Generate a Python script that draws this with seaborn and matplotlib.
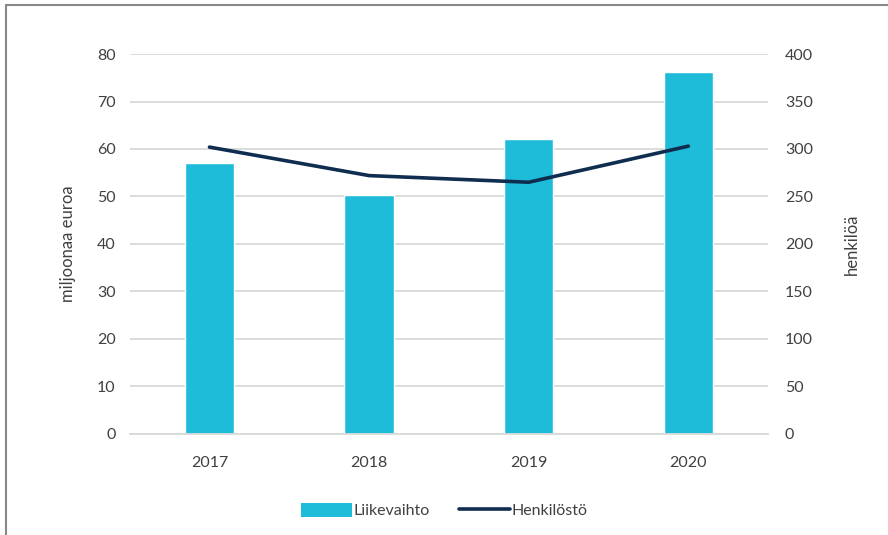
import pandas as pd
import numpy as np
import matplotlib
matplotlib.use('Agg')
import matplotlib.pyplot as plt
import seaborn as sns
from matplotlib.lines import Line2D
from matplotlib.patches import Patch

years = ['2017', '2018', '2019', '2020']
liikevaihto = [57.0, 50.4, 62.2, 76.2]   # miljoonaa euroa
henkilosto = [302, 272, 265, 303]        # henkilöä

df = pd.DataFrame({'vuosi': years, 'liikevaihto': liikevaihto, 'henkilosto': henkilosto})

bar_color = '#1ebcd8'
line_color = '#0f2d4f'
text_color = '#404040'
grid_color = '#d9d9d9'

sns.set_style('white')
plt.rcParams['font.family'] = ['Lato', 'DejaVu Sans']

fig = plt.figure(figsize=(8.88, 5.35), dpi=100)
ax = fig.add_axes([0.146, 0.189, 0.719, 0.710])

sns.barplot(data=df, x='vuosi', y='liikevaihto', color=bar_color, width=0.31,
            saturation=1, ax=ax, zorder=2)
ax.set_ylim(0, 80)
ax.set_yticks(np.arange(0, 81, 10))
ax.set_xlim(-0.5, 3.5)
ax.yaxis.grid(True, color=grid_color, linewidth=1.3, zorder=0)
ax.set_axisbelow(True)
ax.set_xlabel('')
ax.set_ylabel('miljoonaa euroa', fontsize=12, color=text_color, labelpad=15)
for s in ax.spines.values():
    s.set_visible(False)
ax.spines['bottom'].set_visible(True)
ax.spines['bottom'].set_color(grid_color)
ax.spines['bottom'].set_linewidth(1.3)
ax.tick_params(axis='y', length=0, labelsize=11.5, labelcolor=text_color, pad=10)
ax.tick_params(axis='x', length=0, labelsize=11.5, labelcolor=text_color, pad=16)

ax2 = ax.twinx()
sns.lineplot(data=df, x='vuosi', y='henkilosto', color=line_color, linewidth=2.6,
             ax=ax2, zorder=3)
ax2.set_ylim(0, 400)
ax2.set_yticks(np.arange(0, 401, 50))
ax2.set_xlim(-0.5, 3.5)
ax2.set_ylabel('henkilöä', fontsize=12, color=text_color, labelpad=22)
for s in ax2.spines.values():
    s.set_visible(False)
ax2.tick_params(axis='y', length=0, labelsize=11.5, labelcolor=text_color, pad=12)

handles = [Patch(facecolor=bar_color, edgecolor='none'),
           Line2D([0], [0], color=line_color, linewidth=2.6)]
fig.legend(handles, ['Liikevaihto', 'Henkilöstö'], loc='center', bbox_to_anchor=(0.5, 0.045),
           ncol=2, frameon=False, fontsize=11.5, labelcolor=text_color,
           handlelength=3.2, handleheight=0.9, handletextpad=0.1, columnspacing=1.8)

# kehys vasemmalla ja ylhäällä
fig.add_artist(Line2D([0.0065, 0.0065], [0, 0.99], transform=fig.transFigure, color='#888888', linewidth=1.5))
fig.add_artist(Line2D([0.0065, 1.0], [0.99, 0.99], transform=fig.transFigure, color='#888888', linewidth=1.5))

fig.savefig('out.png', dpi=100)
